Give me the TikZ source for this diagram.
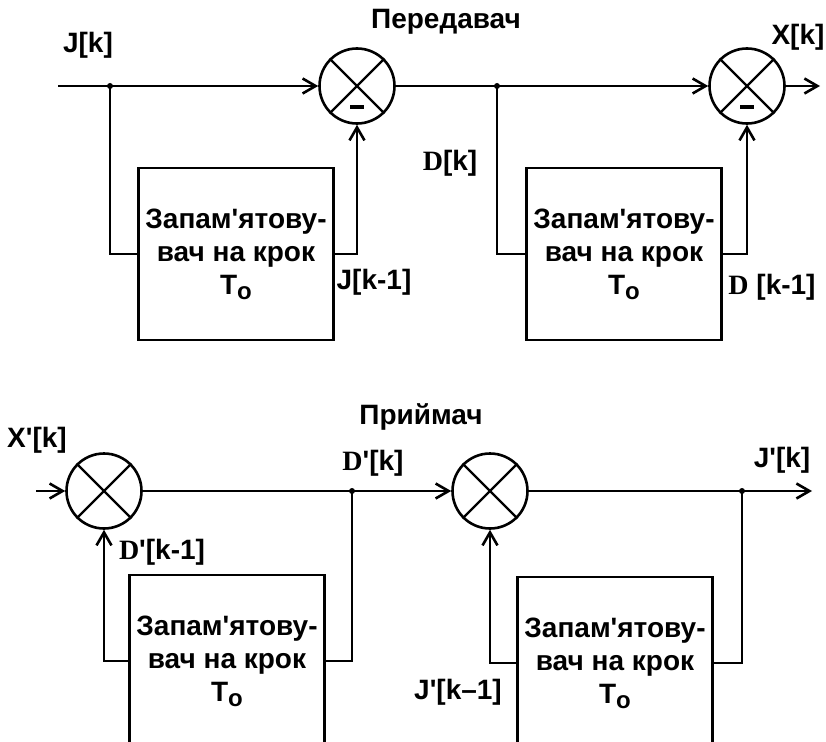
\documentclass[tikz,border=0pt]{standalone}
\usepackage{fontspec}
\setmainfont{Liberation Sans}
\newfontfamily\dfont{Liberation Serif}
\usetikzlibrary{arrows.meta, positioning}

\newcommand{\ap}{\textquotesingle}
\newcommand{\memtext}{Запам\ap ятову-\\вач на крок\\T\raisebox{-5pt}{\fontsize{24}{24}\selectfont o}}

\begin{document}
\begin{tikzpicture}[x=1pt, y=-1pt, >={Straight Barb[length=13pt,width=15pt]},
    font=\fontsize{28}{33}\selectfont\bfseries, line width=2.6pt,
    summer/.style={draw, circle, minimum size=75pt, inner sep=0pt},
    memo/.style={draw, rectangle, minimum width=195pt, minimum height=172pt, align=center}]

    \clip (0,0) rectangle (826,741);

    % 1. Transmitter (top row)
    \node[summer] (sum1) at (357,86) {};
    \node[summer] (sum2) at (747,86) {};
    \node[memo] (mem1) at (236,254) {\memtext};
    \node[memo] (mem2) at (624,254) {\memtext};

    \coordinate (in1) at (58,86);
    \coordinate (fork1) at (110,86);
    \coordinate (fork2) at (497,86);
    \coordinate (out1) at (820,86);

    \draw[->] (in1) -- (sum1);
    \draw (fork1) |- (mem1.west);
    \draw[->] (mem1.east) -| (sum1.south);
    \draw[->] (sum1) -- (sum2);
    \draw (fork2) |- (mem2.west);
    \draw[->] (mem2.east) -| (sum2.south);
    \draw[->] (sum2) -- (out1);

    % 2. Receiver (bottom row)
    \node[summer] (sum3) at (104,491) {};
    \node[summer] (sum4) at (490,491) {};
    \node[memo] (mem3) at (227,661) {\memtext};
    \node[memo] (mem4) at (615,663) {\memtext};

    \coordinate (in2) at (36,491);
    \coordinate (fork3) at (352,491);
    \coordinate (fork4) at (742,491);
    \coordinate (out2) at (812,491);

    \draw[->] (in2) -- (sum3);
    \draw (fork3) |- (mem3.east);
    \draw[->] (mem3.west) -| (sum3.south);
    \draw[->] (sum3) -- (sum4);
    \draw (fork4) |- (mem4.east);
    \draw[->] (mem4.west) -| (sum4.south);
    \draw[->] (sum4) -- (out2);

    % 3. Crosses, minus signs and branch points
    \foreach \s in {sum1, sum2, sum3, sum4} {
        \draw[line width=2.2pt] (\s.north east) -- (\s.south west)
                                (\s.north west) -- (\s.south east);
    }
    \draw[line width=3.2pt] ([shift={(-7,21)}]sum1.center) -- ++(14,0);
    \draw[line width=3.2pt] ([shift={(-7,21)}]sum2.center) -- ++(14,0);
    \foreach \f in {fork1, fork2, fork3, fork4} {
        \fill (\f) circle (3);
    }

    % 4. Signal labels
    \node (lblJk) at (88,45) {J[k]};
    \node (lblTx) at (446,22) {Передавач};
    \node (lblXk) at (798,37) {X[k]};
    \node (lblDk) at (450,163) {{\dfont D}[k]};
    \node (lblJk1) at (374,282) {J[k-1]};
    \node (lblDk1) at (772,287) {{\dfont D} [k-1]};
    \node (lblRx) at (421,417) {Приймач};
    \node (lblXpk) at (37,440) {X\ap[k]};
    \node (lblDpk) at (373,463) {{\dfont D}\ap[k]};
    \node (lblDpk1) at (162,552) {{\dfont D}\ap[k-1]};
    \node (lblJpk) at (782,460) {J\ap[k]};
    \node (lblJpk1) at (458,692) {J\ap[k--1]};

\end{tikzpicture}
\end{document}
